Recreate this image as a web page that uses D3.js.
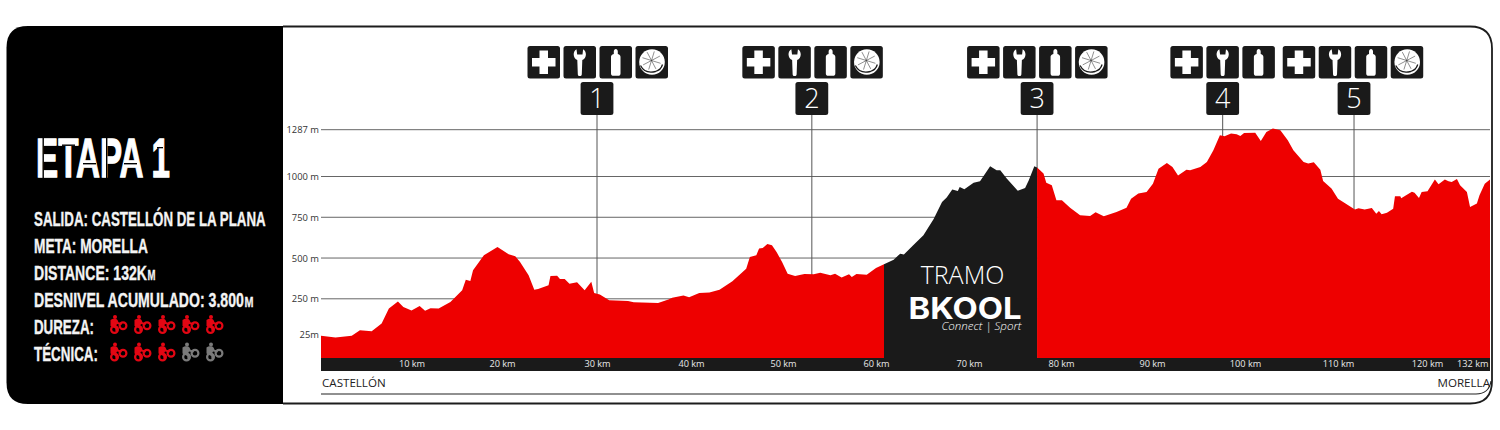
<!DOCTYPE html>
<html>
<head>
<meta charset="utf-8">
<script src="https://cdn.jsdelivr.net/npm/d3@7/dist/d3.min.js"></script>
<style>
html,body{margin:0;padding:0;background:#fff;overflow:hidden}
svg{display:block}
</style>
</head>
<body>
<svg id="chart" width="1500" height="430"></svg>
<script>
// ---- data ----
const kmValues = [0,1.6,3.4,4.3,5.6,6.7,7.5,8.5,9.1,10,10.9,11.5,12.1,13,14.3,15.6,16,16.5,16.8,18,19.5,20.7,21.4,21.9,22.8,23.4,23.8,24.9,25.1,25.8,26.1,26.6,27.1,27.9,28.7,29.4,29.7,30.3,31.3,33.3,33.9,36.5,37.6,38,39.2,39.8,40.9,42,43.1,44.5,46,46.4,47.1,47.4,47.8,48.3,48.8,49.3,49.9,50.5,51.3,52.3,53.3,54,55.1,55.6,56.3,57.1,57.4,57.9,59,60,60.86,61.9,62.6,63,64,65.1,66.2,67.1,67.6,68.2,68.8,69,69.5,70.5,71.2,72.3,73,73.4,74.1,75.3,76.1,76.5,77.1,77.4,78.1,78.4,79,79.5,80.1,81,82.1,83.2,83.8,84.7,86.1,87.2,87.7,88.5,89.4,90.1,90.7,91.6,92.2,92.8,93.7,94.1,95.2,95.9,96.6,97.3,97.8,98.5,99.1,99.5,99.9,101.1,101.7,102.3,103,103.8,104.6,105.2,106.3,106.8,107.4,108.1,108.4,109.3,110,111.9,112.3,113,113.8,114.3,114.6,114.9,115.5,116.2,116.4,117,117.1,118.3,118.6,119.1,119.4,120.1,121.5,122.2,123.4,124.1,124.7,125.7,126.3,127.6,128.2,129.5,130,131,132];
const elevation = [24,12,24,57,51,98,190,233,200,179,206,177,192,190,230,302,367,359,425,517,568,523,511,476,394,306,310,333,390,392,372,372,343,351,302,355,286,277,241,237,229,224,245,257,271,259,286,288,306,357,435,507,517,558,562,586,578,537,476,404,390,402,400,410,394,404,380,400,384,402,398,439,462,490,527,521,578,640,740,844,871,920,911,936,922,961,971,1063,1038,1038,987,913,930,977,1063,1055,1018,961,946,854,854,809,762,758,781,756,783,809,864,895,905,956,1048,1083,1059,1006,1042,1038,1059,1089,1161,1253,1247,1263,1259,1249,1267,1269,1218,1273,1294,1284,1222,1161,1089,1079,1087,1042,973,926,864,797,805,797,807,772,789,768,777,803,879,879,866,907,901,868,905,909,981,952,981,971,967,985,946,905,813,834,885,956,981];
const gridElevations = [250,500,750,1000,1287];
const yTickValues = [25,250,500,750,1000,1287];
const xTickValues = [10,20,30,40,50,60,70,80,90,100,110,120,132];
const tramoStart = 60.86, tramoEnd = 77.4;
const stationNumbers = [1,2,3,4,5];
const stationKm = [30,53.1,77.4,97.6,111.8];
const stationServices = [
  ["plus","wrench","bottle","orange"],
  ["plus","wrench","bottle","orange"],
  ["plus","wrench","bottle","orange"],
  ["plus","wrench","bottle"],
  ["plus","wrench","bottle","orange"]
];
const startName = "CASTELLÓN", endName = "MORELLA";
const infoLines = ["SALIDA: CASTELLÓN DE LA PLANA","META: MORELLA","DISTANCE: 132K","DESNIVEL ACUMULADO: 3.800"];
const infoUnits = ["","","M","M"];
const ratingNames = ["DUREZA:","TÉCNICA:"];
const ratingScores = [5,3];
const ratingMax = 5;

// ---- layout ----
const svg = d3.select("#chart");
const sans = "'Open Sans','Noto Sans',sans-serif";
const narrow = "'Liberation Sans Narrow','Liberation Sans',sans-serif";
const RED = "#ee0000", DARK = "#1a1a1a";
const baseY = 358, bandH = 13, left = 321, right = 1490;
const x = d3.scaleLinear()
  .domain([0,10,20,30,40,50,60,70,80,90,100,110,120,132])
  .range([321,411.5,502,597,691,783,876,969,1061,1152,1245,1338,1427,1490]);
const y = d3.scaleLinear().domain([-113,1287]).range([baseY,129.7]);
const pts = kmValues.map((k,i)=>({km:k,ele:elevation[i]}));
const area = d3.area().x(d=>x(d.km)).y0(baseY).y1(d=>y(d.ele));

// condensed heavy text: glyphs are squeezed to the wanted width
function fitted(txt,px,py,width,size,fill,heavy){
  const el = svg.append("text").attr("font-family",narrow).attr("font-weight",700)
    .attr("font-size",size).attr("fill",fill).text(txt);
  const s = width/el.node().getComputedTextLength();
  el.attr("transform",`translate(${px},${py}) scale(${s},1)`);
  if(heavy) el.attr("stroke",fill).attr("stroke-width",heavy);
  return el;
}

// gridlines
svg.append("g").selectAll("line").data(gridElevations).join("line")
  .attr("x1",left).attr("x2",right).attr("y1",d=>y(d)).attr("y2",d=>y(d))
  .attr("stroke","#666").attr("stroke-width",1);

// y axis labels
const yAxis = svg.append("g").attr("transform",`translate(${left-2},0)`)
  .call(d3.axisLeft(y).tickValues(yTickValues).tickSize(0).tickPadding(0)
    .tickFormat(d=>d===25?"25m":d+" m"));
yAxis.select(".domain").remove();
yAxis.selectAll("text").attr("font-family",sans).attr("font-size",9.4).attr("fill","#333");
yAxis.selectAll("text").filter(d=>d===25).attr("y",-1.5);

// station leader lines
svg.append("g").selectAll("line").data(stationKm).join("line")
  .attr("x1",d=>x(d)).attr("x2",d=>x(d)).attr("y1",115).attr("y2",baseY)
  .attr("stroke","#555").attr("stroke-width",1);

// profile
const segments = [
  {pts:pts.filter(d=>d.km<=tramoStart),fill:RED},
  {pts:pts.filter(d=>d.km>=tramoStart&&d.km<=tramoEnd),fill:DARK},
  {pts:pts.filter(d=>d.km>=tramoEnd),fill:RED}
];
svg.append("g").selectAll("path").data(segments).join("path")
  .attr("d",d=>area(d.pts)).attr("fill",d=>d.fill);

// km band
svg.append("rect").attr("x",left).attr("y",baseY).attr("width",right-left).attr("height",bandH).attr("fill",DARK);
const xAxis = svg.append("g").attr("transform",`translate(0,${baseY})`)
  .call(d3.axisBottom(x).tickValues(xTickValues).tickSize(0).tickPadding(0).tickFormat(d=>d+" km"));
xAxis.select(".domain").remove();
xAxis.selectAll("text").attr("font-family",sans).attr("font-size",9.2).attr("fill","#e8e8e8").attr("dy","0.95em");
xAxis.selectAll("text").filter(d=>d===132).attr("text-anchor","end").attr("x",-2);

// start / end names
svg.append("text").attr("x",left+1).attr("y",387).attr("font-family",sans).attr("font-size",11.6).attr("fill","#222").text(startName);
svg.append("text").attr("x",right).attr("y",387).attr("text-anchor","end").attr("font-family",sans).attr("font-size",11.6).attr("fill","#222").text(endName);
svg.append("path").attr("fill","none").attr("stroke","#222").attr("stroke-width",1.1)
  .attr("d",`M${left} 394H1476Q1489 394 1491 381`);

// tramo label
const tramoX = 962.5;
svg.append("text").attr("x",tramoX).attr("y",284).attr("text-anchor","middle").attr("font-family",sans).attr("font-weight",300).attr("font-size",25).attr("fill","#fff").text("TRAMO");
svg.append("text").attr("x",908.5).attr("y",319).attr("textLength",113).attr("lengthAdjust","spacingAndGlyphs").attr("font-family","Inter,sans-serif").attr("font-weight",700).attr("font-size",30.5).attr("fill","#fff").text("BKOOL");
svg.append("text").attr("x",941.5).attr("y",330).attr("textLength",80).attr("lengthAdjust","spacingAndGlyphs").attr("font-family",sans).attr("font-style","italic").attr("font-weight",300).attr("font-size",10).attr("fill","#fff").text("Connect | Sport");

// service icons
const iconW = 32.5, iconStep = 36;
const drawIcon = {
  plus(g){ g.append("path").attr("fill","#fff").attr("d","M12 4.5h8.5v7.5h7.5v8.5h-7.5v7.5h-8.5v-7.5h-7.5v-8.5h7.5z"); },
  wrench(g){ g.append("path").attr("fill","#fff").attr("d","M13 3.2C11 4.4 10.2 6.4 10.2 8.4c0 2.6 1.5 4.6 3.6 5.6L14.3 28.2c0 1.3.9 1.8 2 1.8s2-.5 2-1.8L18.8 14c2.2-1 3.6-3 3.6-5.6 0-2-.8-4-2.8-5.2L19 8.4h-5.3z"); },
  bottle(g){ g.append("path").attr("fill","#fff").attr("d","M14.3 5.5c0-1.5.9-2.5 2-2.5s2 1 2 2.5V8c2 .5 2.7 1.5 2.7 3v16.5c0 1.5-.9 2.3-2.4 2.3h-4.7c-1.5 0-2.4-.8-2.4-2.3V11c0-1.5.7-2.5 2.8-3z"); },
  orange(g){
    g.append("circle").attr("cx",16.5).attr("cy",16).attr("r",12.8).attr("fill","#fff");
    g.append("path").attr("d","M5 19.5C8 25.5 14 27 20 25.5c3.5-1 6-3.5 7-7").attr("fill","none").attr("stroke","#1a1a1a").attr("stroke-width",1.3);
    g.append("g").selectAll("line").data(d3.range(8)).join("line")
      .attr("x1",16).attr("y1",14.5)
      .attr("x2",i=>16+9.5*Math.cos(i*Math.PI/4+0.3))
      .attr("y2",i=>14.5+9.5*Math.sin(i*Math.PI/4+0.3))
      .attr("stroke","#333").attr("stroke-width",0.55);
  }
};
const iconOffset = [-69.5,-69.5,-70,-52.3,-71.3];
const stations = svg.append("g").selectAll("g").data(stationKm).join("g")
  .attr("transform",d=>`translate(${x(d)},0)`);
stations.each(function(km,i){
  const st = d3.select(this);
  stationServices[i].forEach((name,j)=>{
    const g = st.append("g").attr("transform",`translate(${iconOffset[i]+j*iconStep},46)`);
    g.append("rect").attr("width",iconW).attr("height",iconW).attr("rx",2.5).attr("fill",DARK);
    drawIcon[name](g);
  });
  st.append("rect").attr("x",-16.4).attr("y",82).attr("width",32.8).attr("height",33).attr("rx",2.5).attr("fill",DARK);
  st.append("text").attr("y",108).attr("text-anchor","middle").attr("font-family",sans).attr("font-weight",300).attr("font-size",27).attr("fill","#fff").text(stationNumbers[i]);
});

// frame and side panel
svg.append("path").attr("fill","#000")
  .attr("d","M283 26H28Q6.5 26 6.5 47.5V382.5Q6.5 404 28 404H283Z");
svg.append("path").attr("fill","none").attr("stroke","#1c1c1c").attr("stroke-width",1.8)
  .attr("d","M283 26.5H1470Q1492 26.5 1492 48.5V381Q1492 403.5 1470 403.5H283");

// title
fitted("ETAPA 1",36,177,134,56,"#fff",1.3);
const stencilCuts = [[42.5,137,1.4,41],[62,144.5,13,1.4],[83,163,13,1.4],[106,137,1.4,41],[124,163,13,1.4],[157,147,6,1.3]];
svg.append("g").selectAll("rect").data(stencilCuts).join("rect")
  .attr("x",d=>d[0]).attr("y",d=>d[1]).attr("width",d=>d[2]).attr("height",d=>d[3]).attr("fill","#000");

// info lines
const lineBase = [226,253,280,307], lineLen = [232,114,113,210], unitX = [0,0,147.5,244.5], unitLen = [0,0,8,9];
infoLines.forEach((t,i)=>{
  fitted(t,34,lineBase[i],lineLen[i],20.5,"#f4f4f4",0.35);
  if(infoUnits[i]) fitted(infoUnits[i],unitX[i],lineBase[i],unitLen[i],14.5,"#f4f4f4",0.25);
});
const ratingBase = [334,361], ratingLen = [60,64], bikeY = [315,342.5];
ratingNames.forEach((t,i)=>{
  fitted(t,34,ratingBase[i],ratingLen[i],20.5,"#f4f4f4",0.35);
  const row = svg.append("g").selectAll("g").data(d3.range(ratingMax)).join("g")
    .attr("transform",k=>`translate(${109+k*24},${bikeY[i]})`)
    .attr("fill",k=>k<ratingScores[i]?"#e30613":"#7a7a7a")
    .attr("stroke",k=>k<ratingScores[i]?"#e30613":"#7a7a7a");
  row.append("circle").attr("cx",5.5).attr("cy",14.5).attr("r",3.4).attr("fill","none").attr("stroke-width",2.2);
  row.append("circle").attr("cx",14).attr("cy",10.8).attr("r",3.4).attr("fill","none").attr("stroke-width",2.2);
  row.append("circle").attr("cx",6).attr("cy",2).attr("r",2).attr("stroke","none");
  row.append("path").attr("stroke","none").attr("d","M1.5 5c2-1.8 6-1.8 7 0l1 2.3 3.5 1-.5 1.7-4.5-1-1 2 2.5 1.5-.5 4H6.5l-.3-3L1.5 11z");
});
</script>
</body>
</html>
